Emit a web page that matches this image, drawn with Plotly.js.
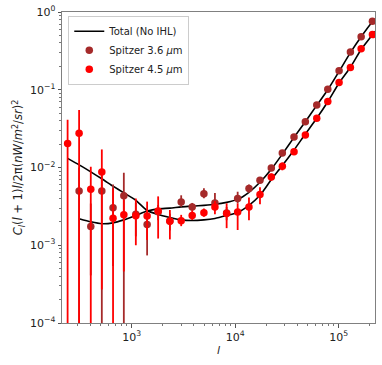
<!DOCTYPE html>
<html>
<head>
<meta charset="utf-8">
<script src="https://cdn.plot.ly/plotly-3.0.1.min.js"></script>
<style>
  body { margin: 0; padding: 0; background: #fff; }
  #grafica { width: 382px; height: 365px; }
</style>
</head>
<body>
<div id="grafica"></div>
<script>
// multipoles (shared by both bands)
const ell = [240, 310, 402, 514, 660, 839, 1096, 1409, 1801, 2338, 3008, 3843, 4989, 6375,
  8273, 10573, 13602, 17380, 22360, 28580, 37080, 47710, 61500, 78630, 101100, 130100, 165200, 212400];

// Spitzer 3.6 um (no first bin)
const ch1 = [null, 0.005, 0.00174, 0.005, 0.00304, 0.00433, 0.0025, 0.00185, 0.0027, 0.00205,
  0.00359, 0.0031, 0.00461, 0.00349, 0.0026, 0.00398, 0.00535, 0.00685, 0.00988, 0.0154,
  0.0247, 0.0388, 0.0638, 0.1018, 0.1753, 0.306, 0.482, 0.76];
const ch1Up = [null, 0.005, 0.0017, 0.004, 0.003, 0.0042, 0.001, 0.001, 0.0006, 0.0005,
  0.0008, 0.0004, 0.0008, 0.0012, 0.0005, 0.0009, 0.0007, 0.0005, 0.0006, 0.0008,
  0.001, 0.0012, 0.0015, 0.002, 0.003, 0.004, 0.006, 0.008];
const ch1Down = [null, 0.005, 0.00133, 0.005, 0.0025, 0.00433, 0.0012, 0.00111, 0.0006, 0.0005,
  0.00046, 0.0003, 0.0006, 0.0007, 0.0005, 0.0005, 0.0006, 0.0005, 0.0006, 0.0008,
  0.001, 0.0012, 0.0015, 0.002, 0.003, 0.004, 0.006, 0.008];

// Spitzer 4.5 um
const ch2 = [0.0204, 0.0275, 0.00525, 0.00877, 0.00222, 0.00246, 0.00239, 0.00237, 0.00275, 0.00204,
  0.00206, 0.00241, 0.00262, 0.0031, 0.00256, 0.00267, 0.0031, 0.00448, 0.00756, 0.0104,
  0.0159, 0.0261, 0.043, 0.0704, 0.1239, 0.1936, 0.338, 0.512];
const ch2Up = [0.0206, 0.0273, 0.005, 0.0083, 0.0032, 0.0014, 0.0016, 0.00127, 0.0015, 0.0008,
  0.0004, 0.0004, 0.00035, 0.0006, 0.0009, 0.0008, 0.001, 0.0011, 0.0008, 0.0012,
  0.0008, 0.001, 0.0012, 0.0015, 0.002, 0.003, 0.004, 0.006];
const ch2Down = [0.0204, 0.0275, 0.00525, 0.0085, 0.00222, 0.002, 0.00139, 0.0012, 0.00153, 0.00085,
  0.0003, 0.0003, 0.0003, 0.0006, 0.0009, 0.0011, 0.001, 0.0011, 0.0008, 0.0012,
  0.0008, 0.001, 0.0012, 0.0015, 0.002, 0.003, 0.004, 0.006];

// total model curves (no IHL)
const ellModel = [240, 310, 402, 514, 660, 839, 1096, 1409, 1801, 2338, 3008, 3843, 4989, 6375,
  8273, 10573, 13602, 17380, 22360, 28580, 37080, 47710, 61500, 78630, 101100, 130100, 165200, 212400, 224000];
const model1 = [null, 0.00219, 0.002, 0.00189, 0.00194, 0.00212, 0.00241, 0.00275, 0.00294, 0.003,
  0.00312, 0.00318, 0.00326, 0.00336, 0.00356, 0.00389, 0.0048, 0.00646, 0.0095, 0.01486,
  0.0244, 0.0388, 0.063, 0.1, 0.172, 0.3, 0.48, 0.75, 0.8];
const model2 = [0.0131, 0.0108, 0.00877, 0.00716, 0.00575, 0.00472, 0.00378, 0.0028, 0.00249, 0.00228,
  0.00212, 0.00208, 0.00212, 0.00221, 0.00241, 0.00264, 0.00326, 0.00439, 0.007, 0.0106,
  0.0168, 0.027, 0.043, 0.07, 0.122, 0.195, 0.33, 0.51, 0.565];

// tick labels
const xTicks = [1e3, 1e4, 1e5];
const xTickText = ['10<sup>3</sup>', '10<sup>4</sup>', '10<sup>5</sup>'];
const yTicks = [1e-4, 1e-3, 1e-2, 1e-1, 1];
const yTickText = ['10<sup>−4</sup>', '10<sup>−3</sup>', '10<sup>−2</sup>', '10<sup>−1</sup>', '10<sup>0</sup>'];

const fuente = 'DejaVu Sans, sans-serif';

const trazaModelo1 = {
  x: ellModel, y: model1, mode: 'lines', name: 'Total (No IHL)',
  line: { color: 'black', width: 1.6, shape: 'spline', smoothing: 0.6 },
  connectgaps: false
};
const trazaModelo2 = {
  x: ellModel, y: model2, mode: 'lines', name: 'Total (No IHL)', showlegend: false,
  line: { color: 'black', width: 1.6, shape: 'spline', smoothing: 0.6 }
};
const trazaCh1 = {
  x: ell, y: ch1, mode: 'markers', name: 'Spitzer 3.6 <i>μ</i>m',
  marker: { color: '#a52a2a', size: 7.5 },
  error_y: { type: 'data', symmetric: false, array: ch1Up, arrayminus: ch1Down,
    color: '#a52a2a', thickness: 1.8, width: 0 }
};
const trazaCh2 = {
  x: ell, y: ch2, mode: 'markers', name: 'Spitzer 4.5 <i>μ</i>m',
  marker: { color: '#ff0000', size: 7.5 },
  error_y: { type: 'data', symmetric: false, array: ch2Up, arrayminus: ch2Down,
    color: '#ff0000', thickness: 1.8, width: 0 }
};

const ejeComun = {
  type: 'log', showgrid: false, zeroline: false,
  showline: true, mirror: true, linecolor: '#808080', linewidth: 1,
  ticks: 'outside', ticklen: 3.5, tickwidth: 1, tickcolor: '#555',
  tickmode: 'array',
  tickfont: { family: fuente, size: 11, color: '#222' },
  minor: { ticks: 'outside', ticklen: 2, tickwidth: 0.8, tickcolor: '#555', dtick: 'D1', showgrid: false }
};

const layout = {
  width: 382, height: 365,
  margin: { l: 62, r: 7, t: 12, b: 42 },
  paper_bgcolor: 'white', plot_bgcolor: 'white',
  font: { family: fuente, size: 10, color: '#222' },
  showlegend: true,
  legend: {
    x: 0.02, y: 0.988, xanchor: 'left', yanchor: 'top',
    bgcolor: 'rgba(255,255,255,0.9)', bordercolor: '#ccc', borderwidth: 1,
    font: { family: fuente, size: 10, color: '#222' },
    itemwidth: 30, tracegroupgap: 0
  },
  xaxis: Object.assign({}, ejeComun, {
    range: [2.326, 5.352],
    tickvals: xTicks, ticktext: xTickText,
    title: { text: '<i>l</i>', font: { family: fuente, size: 11, color: '#222' }, standoff: 3 }
  }),
  yaxis: Object.assign({}, ejeComun, {
    range: [-4, 0],
    tickvals: yTicks, ticktext: yTickText,
    title: { text: '<i>C</i><sub><i>l</i></sub>(<i>l</i> + 1)<i>l</i>/2π(<i>nW</i>/<i>m</i><sup>2</sup>/<i>sr</i>)<sup>2</sup>',
      font: { family: fuente, size: 11.5, color: '#222' }, standoff: 4 }
  })
};

Plotly.newPlot('grafica', [trazaModelo1, trazaModelo2, trazaCh1, trazaCh2], layout, { displayModeBar: false, staticPlot: true });
</script>
</body>
</html>
